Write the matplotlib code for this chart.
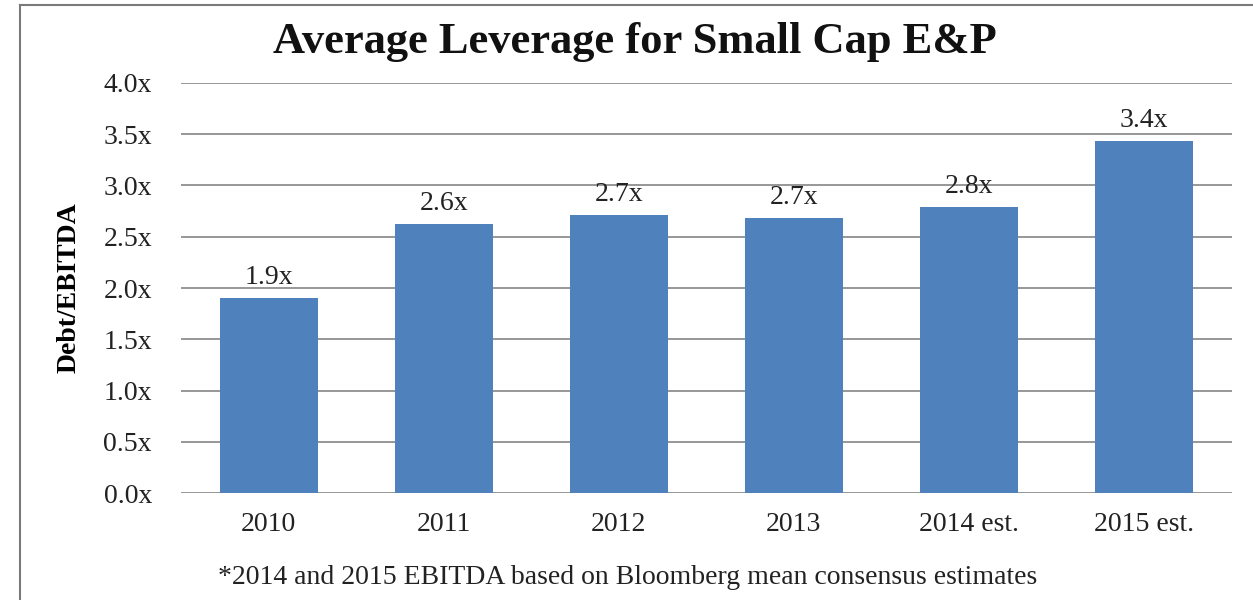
import matplotlib
matplotlib.use('Agg')
import matplotlib.pyplot as plt
from matplotlib.lines import Line2D

categories = ['2010', '2011', '2012', '2013', '2014 est.', '2015 est.']
leverage = [1.90, 2.62, 2.71, 2.68, 2.79, 3.43]
bar_labels = ['1.9x', '2.6x', '2.7x', '2.7x', '2.8x', '3.4x']
yticks = [0.0, 0.5, 1.0, 1.5, 2.0, 2.5, 3.0, 3.5, 4.0]

plt.rcParams['font.family'] = ['Liberation Serif', 'DejaVu Serif']

fig = plt.figure(figsize=(12.53, 6), dpi=100)
ax = fig.add_axes([0.1445, 0.1783, 0.8385, 0.6834])

x = range(len(categories))
bars = ax.bar(x, leverage, width=0.56, color='#4F81BD', zorder=3)

# etiquetas encima de cada barra
for b, lab in zip(bars, bar_labels):
    ax.annotate(lab, (b.get_x() + b.get_width() / 2, b.get_height()),
                xytext=(0, 6), textcoords='offset points',
                ha='center', va='bottom', fontsize=20, color='#222222')

ax.set_ylim(0, 4.0)
ax.set_xlim(-0.5, len(categories) - 0.5)
ax.set_yticks(yticks)
ax.set_yticklabels([f'{v:.1f}x' for v in yticks], fontsize=20, color='#222222')
ax.set_xticks(list(x))
ax.set_xticklabels(categories, fontsize=20, color='#222222')
ax.tick_params(length=0)
ax.tick_params(axis='x', pad=14)
ax.tick_params(axis='y', pad=21)
ax.yaxis.grid(True, color='#858585', linewidth=1.2, zorder=0)
for s in ax.spines.values():
    s.set_visible(False)

ax.set_ylabel('Debt/EBITDA', fontsize=20, fontweight='bold')
ax.yaxis.set_label_coords(-0.095, 0.5)

fig.text(0.507, 1 - 53 / 600, 'Average Leverage for Small Cap E&P', ha='center', va='baseline',
         fontsize=32, fontweight='bold', color='#111111')
fig.text(0.501, 1 - 584 / 600, '*2014 and 2015 EBITDA based on Bloomberg mean consensus estimates',
         ha='center', va='baseline', fontsize=20, color='#222222')

# marco exterior
fig.add_artist(Line2D([20 / 1253, 1.0], [1 - 5 / 600, 1 - 5 / 600], color='#7a7a7a', linewidth=1.5))
fig.add_artist(Line2D([20 / 1253, 20 / 1253], [0, 1 - 5 / 600], color='#7a7a7a', linewidth=1.5))

fig.savefig('out.png', dpi=100)
